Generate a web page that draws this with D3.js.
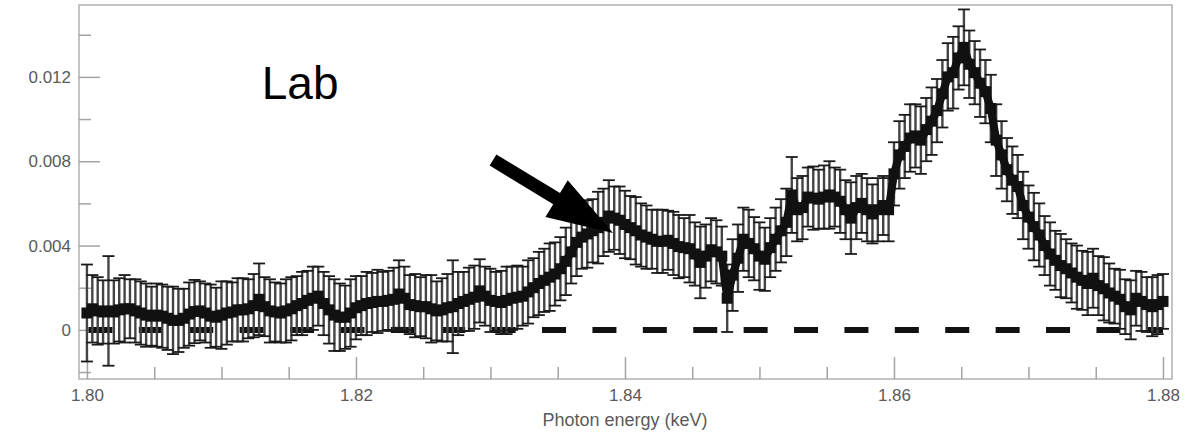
<!DOCTYPE html>
<html><head><meta charset="utf-8">
<script src="https://cdn.jsdelivr.net/npm/d3@7"></script>
<style>html,body{margin:0;padding:0;background:#fff;} svg{display:block;}</style>
</head><body><svg id="chart" width="1190" height="438"></svg>
<script>
// ---------- data ----------
const energy = [
1.8000,1.8004,1.8008,1.8012,1.8016,1.8020,1.8024,1.8028,1.8032,1.8036,
1.8040,1.8044,1.8048,1.8052,1.8056,1.8060,1.8064,1.8068,1.8072,1.8076,
1.8080,1.8084,1.8088,1.8092,1.8096,1.8100,1.8104,1.8108,1.8112,1.8116,
1.8120,1.8124,1.8128,1.8132,1.8136,1.8140,1.8144,1.8148,1.8152,1.8156,
1.8160,1.8164,1.8168,1.8172,1.8176,1.8180,1.8184,1.8188,1.8192,1.8196,
1.8200,1.8204,1.8208,1.8212,1.8216,1.8220,1.8224,1.8228,1.8232,1.8236,
1.8240,1.8244,1.8248,1.8252,1.8256,1.8260,1.8264,1.8268,1.8272,1.8276,
1.8280,1.8284,1.8288,1.8292,1.8296,1.8300,1.8304,1.8308,1.8312,1.8316,
1.8320,1.8324,1.8328,1.8332,1.8336,1.8340,1.8344,1.8348,1.8352,1.8356,
1.8360,1.8364,1.8368,1.8372,1.8376,1.8380,1.8384,1.8388,1.8392,1.8396,
1.8400,1.8404,1.8408,1.8412,1.8416,1.8420,1.8424,1.8428,1.8432,1.8436,
1.8440,1.8444,1.8448,1.8452,1.8456,1.8460,1.8464,1.8468,1.8472,1.8476,
1.8480,1.8484,1.8488,1.8492,1.8496,1.8500,1.8504,1.8508,1.8512,1.8516,
1.8520,1.8524,1.8528,1.8532,1.8536,1.8540,1.8544,1.8548,1.8552,1.8556,
1.8560,1.8564,1.8568,1.8572,1.8576,1.8580,1.8584,1.8588,1.8592,1.8596,
1.8600,1.8604,1.8608,1.8612,1.8616,1.8620,1.8624,1.8628,1.8632,1.8636,
1.8640,1.8644,1.8648,1.8652,1.8656,1.8660,1.8664,1.8668,1.8672,1.8676,
1.8680,1.8684,1.8688,1.8692,1.8696,1.8700,1.8704,1.8708,1.8712,1.8716,
1.8720,1.8724,1.8728,1.8732,1.8736,1.8740,1.8744,1.8748,1.8752,1.8756,
1.8760,1.8764,1.8768,1.8772,1.8776,1.8780,1.8784,1.8788,1.8792,1.8796,
1.8800];

const intensity = [
.0008,.0010,.0009,.00085,.0009,.00085,.00095,.0010,.0010,.0009,
.0008,.0007,.00065,.0007,.00065,.00055,.00045,.00045,.00055,.00075,
.00087,.0009,.0008,.00065,.0006,.0007,.0008,.00085,.00095,.00095,
.0010,.00115,.00145,.0011,.0009,.00085,.0008,.0009,.0010,.00115,
.00125,.0014,.0015,.0016,.00125,.00095,.0007,.0006,.0006,.0008,
.00105,.00115,.00125,.0013,.00135,.00135,.0014,.00145,.0017,.0015,
.0012,.00115,.0011,.0011,.0010,.0009,.00095,.00105,.0011,.00125,
.00135,.00145,.00155,.00185,.0016,.0014,.00135,.0013,.0014,.0015,
.00155,.0016,.0018,.0020,.0022,.00235,.0025,.00265,.0029,.00325,
.0037,.00415,.0044,.00455,.0047,.00485,.0051,.0054,.0053,.0052,
.0050,.00485,.0047,.0045,.0044,.0043,.0042,.0042,.00425,.0041,
.00395,.0039,.00385,.0036,.0032,.0035,.0038,.0037,.0035,.0015,
.0026,.0034,.0043,.0041,.00385,.0035,.00335,.0039,.0043,.0047,
.0051,.0064,.0057,.0058,.0063,.00625,.0062,.0063,.0064,.0063,
.0061,.0057,.0053,.0058,.0060,.0057,.0055,.0057,.0059,.0057,
.0074,.0083,.0087,.0091,.0092,.0090,.0095,.0099,.0104,.0112,
.0120,.0122,.0129,.0134,.0126,.0122,.0117,.0113,.0105,.0090,
.0083,.0076,.0071,.0068,.0059,.00535,.0049,.0045,.0040,.0036,
.0033,.00305,.0029,.0027,.0025,.00235,.0022,.00245,.0021,.00195,
.00175,.0016,.00145,.0011,.00095,.0015,.00135,.0012,.0011,.0012,
.00135];

const errorBar = [
.0023,.0016,.0016,.0015,.0026,.0015,.0015,.0016,.0014,.0015,
.0015,.0015,.0014,.0015,.0015,.0015,.0016,.0015,.0014,.0015,
.0015,.0014,.0014,.0015,.0014,.0016,.0015,.0014,.0015,.0015,
.0014,.0015,.0017,.0014,.0015,.0014,.0014,.0015,.0015,.0014,
.0015,.0014,.0015,.0014,.0015,.0016,.0017,.0016,.0015,.0016,
.0015,.0014,.0015,.0014,.0015,.0014,.0014,.0015,.0016,.0015,
.0014,.0015,.0014,.0015,.0016,.0014,.0015,.0016,.0022,.0015,
.0014,.0015,.0015,.0015,.0014,.0015,.0014,.0015,.0016,.0015,
.0015,.0014,.0015,.0014,.0015,.0015,.0016,.0015,.0015,.0016,
.0015,.0016,.0015,.0016,.0015,.0017,.0016,.0017,.0015,.0016,
.0016,.0015,.0016,.0015,.0015,.0014,.0015,.0015,.0014,.0015,
.0015,.0014,.0016,.0015,.0017,.0015,.0015,.0015,.0014,.0016,
.0017,.0016,.0015,.0016,.0015,.0016,.0015,.0014,.0015,.0015,
.0016,.0018,.0015,.0015,.0014,.0015,.0014,.0015,.0016,.0014,
.0015,.0014,.0017,.0015,.0014,.0015,.0014,.0015,.0014,.0015,
.0015,.0016,.0015,.0016,.0015,.0016,.0015,.0016,.0015,.0016,
.0016,.0017,.0015,.0018,.0016,.0015,.0016,.0015,.0016,.0017,
.0016,.0015,.0016,.0015,.0016,.0015,.0016,.0015,.0014,.0015,
.0014,.0015,.0014,.0014,.0015,.0014,.0015,.0014,.0014,.0015,
.0014,.0013,.0014,.0013,.0014,.0013,.0014,.0013,.0014,.0014,
.0013];

const xTicksMajor = [1.80, 1.82, 1.84, 1.86, 1.88];
const xTickLabels = ["1.80", "1.82", "1.84", "1.86", "1.88"];
const xTicksMinor = [1.805, 1.81, 1.815, 1.825, 1.83, 1.835, 1.845, 1.85, 1.855, 1.865, 1.87, 1.875];
const yTicksMajor = [0, 0.004, 0.008, 0.012];
const yTickLabels = ["0", "0.004", "0.008", "0.012"];
const yTicksMinor = [-0.002, 0.002, 0.006, 0.010, 0.014];
const xTitle = "Photon energy (keV)";
const labelText = "Lab";
const labelPos = [1.8130, 0.01096];
const arrowTail = [1.83019, 0.00806];
const arrowTip = [1.83911, 0.00460];
const zeroLineExtent = [1.80, 1.88];

// ---------- drawing ----------
const svg = d3.select("#chart");
const x = d3.scaleLinear().domain([1.79941, 1.88067]).range([79, 1172]);
const y = d3.scaleLinear().domain([-0.00233, 0.01541]).range([379, 5]);
const FONT = "'Liberation Sans', Arial, sans-serif";
const AXIS_COL = "#a3a3a3";

// frame
svg.append("rect").attr("x", 79).attr("y", 5).attr("width", 1093).attr("height", 374)
  .attr("fill", "none").attr("stroke", "#b0b0b0").attr("stroke-width", 1.5);

// x axis
const xMajorFmt = d => xTickLabels[xTicksMajor.indexOf(d)];
const gx = svg.append("g").attr("transform", "translate(0,379)")
  .call(d3.axisBottom(x).tickValues(xTicksMajor).tickFormat(xMajorFmt).tickSizeInner(-22).tickSizeOuter(0).tickPadding(10));
const gxm = svg.append("g").attr("transform", "translate(0,379)")
  .call(d3.axisBottom(x).tickValues(xTicksMinor).tickFormat("").tickSizeInner(-12).tickSizeOuter(0));
// y axis
const yMajorFmt = d => yTickLabels[yTicksMajor.indexOf(d)];
const gy = svg.append("g").attr("transform", "translate(79,0)")
  .call(d3.axisLeft(y).tickValues(yTicksMajor).tickFormat(yMajorFmt).tickSizeInner(-21).tickSizeOuter(0).tickPadding(8));
const gym = svg.append("g").attr("transform", "translate(79,0)")
  .call(d3.axisLeft(y).tickValues(yTicksMinor).tickFormat("").tickSizeInner(-12).tickSizeOuter(0));
[gx, gxm, gy, gym].forEach(g => {
  g.select(".domain").remove();
  g.selectAll(".tick line").attr("stroke", AXIS_COL).attr("stroke-width", 1.5);
  g.selectAll(".tick text").attr("fill", "#5a5a5a").style("font-family", FONT).style("font-size", "17px");
});

svg.append("text").attr("x", x(1.84)).attr("y", 426).attr("text-anchor", "middle")
  .attr("fill", "#5a5a5a").style("font-family", FONT).style("font-size", "18px").text(xTitle);

// dashed zero line
svg.append("line").attr("x1", x(zeroLineExtent[0])).attr("x2", x(zeroLineExtent[1]))
  .attr("y1", y(0)).attr("y2", y(0))
  .attr("stroke", "#111").attr("stroke-width", 6).attr("stroke-dasharray", "24 26.4")
  .attr("stroke-dashoffset", -1.5);

const data = energy.map((e, i) => ({e, v: intensity[i], err: errorBar[i]}));

// error bars
const eb = svg.append("g");
eb.selectAll("line.stem").data(data).join("line").attr("class", "stem")
  .attr("x1", d => x(d.e)).attr("x2", d => x(d.e))
  .attr("y1", d => y(d.v + d.err)).attr("y2", d => y(d.v - d.err))
  .attr("stroke", "#444").attr("stroke-width", 2.4);
const capW = 6;
eb.selectAll("line.capT").data(data).join("line").attr("class", "capT")
  .attr("x1", d => x(d.e) - capW).attr("x2", d => x(d.e) + capW)
  .attr("y1", d => y(d.v + d.err)).attr("y2", d => y(d.v + d.err))
  .attr("stroke", "#1a1a1a").attr("stroke-width", 1.8);
eb.selectAll("line.capB").data(data).join("line").attr("class", "capB")
  .attr("x1", d => x(d.e) - capW).attr("x2", d => x(d.e) + capW)
  .attr("y1", d => y(d.v - d.err)).attr("y2", d => y(d.v - d.err))
  .attr("stroke", "#1a1a1a").attr("stroke-width", 1.8);

// central line + square markers
svg.append("path").datum(data)
  .attr("d", d3.line().x(d => x(d.e)).y(d => y(d.v)))
  .attr("fill", "none").attr("stroke", "#111").attr("stroke-width", 8).attr("stroke-linejoin", "round");
const ms = 11;
svg.append("g").selectAll("rect").data(data).join("rect")
  .attr("x", d => x(d.e) - ms / 2).attr("y", d => y(d.v) - ms / 2)
  .attr("width", ms).attr("height", ms).attr("fill", "#111");

// "Lab" label
svg.append("text").attr("x", x(labelPos[0])).attr("y", y(labelPos[1]))
  .attr("fill", "#000").style("font-family", FONT).style("font-size", "46px").text(labelText);

// arrow
(function () {
  const p0 = [x(arrowTail[0]), y(arrowTail[1])];
  const p1 = [x(arrowTip[0]), y(arrowTip[1])];
  const dx = p1[0] - p0[0], dy = p1[1] - p0[1];
  const L = Math.hypot(dx, dy);
  const u = [dx / L, dy / L], n = [-u[1], u[0]];
  const sw = 13, hw = 43, hl = 66;
  const b = [p1[0] - u[0] * hl, p1[1] - u[1] * hl];
  const pt = (p, k) => [p[0] + n[0] * k, p[1] + n[1] * k];
  const pts = [pt(p0, sw / 2), pt(b, sw / 2), pt(b, hw / 2), p1, pt(b, -hw / 2), pt(b, -sw / 2), pt(p0, -sw / 2)];
  svg.append("polygon").attr("points", pts.map(p => p.join(",")).join(" ")).attr("fill", "#000");
})();
</script>
</body></html>
